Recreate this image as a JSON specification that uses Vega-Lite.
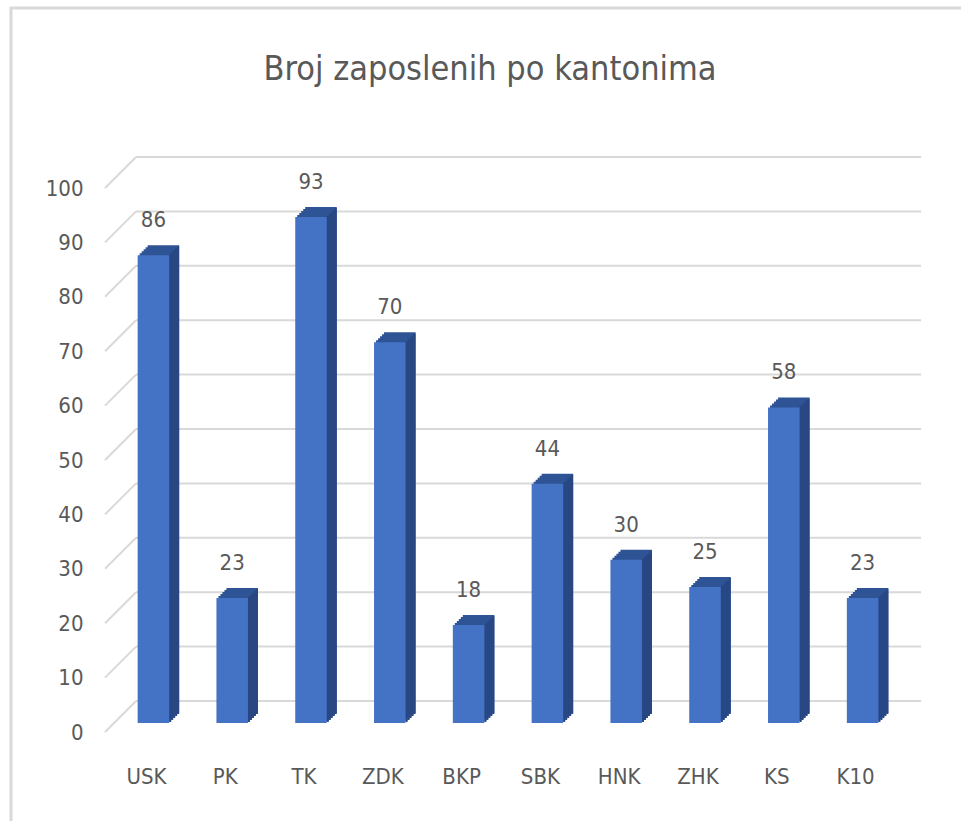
{
  "$schema": "https://vega.github.io/schema/vega-lite/v6.json",
  "width": 950,
  "height": 813,
  "autosize": {"type": "none"},
  "padding": {"left": 11, "top": 8, "right": 0, "bottom": 0},
  "background": "white",
  "title": {
    "text": "Broj zaposlenih po kantonima",
    "anchor": "middle",
    "frame": "group",
    "fontSize": 34,
    "fontWeight": "normal",
    "color": "#595959",
    "baseline": "alphabetic",
    "offset": -106,
    "dx": 4
  },
  "datasets": {
    "bars": [
      {"k": "USK", "v": 86},
      {"k": "PK", "v": 23},
      {"k": "TK", "v": 93},
      {"k": "ZDK", "v": 70},
      {"k": "BKP", "v": 18},
      {"k": "SBK", "v": 44},
      {"k": "HNK", "v": 30},
      {"k": "ZHK", "v": 25},
      {"k": "KS", "v": 58},
      {"k": "K10", "v": 23}
    ],
    "grid": [
      {"v": 0}, {"v": 10}, {"v": 20}, {"v": 30}, {"v": 40}, {"v": 50},
      {"v": 60}, {"v": 70}, {"v": 80}, {"v": 90}, {"v": 100}
    ]
  },
  "layer": [
    {
      "data": {"name": "grid"},
      "mark": {"type": "rule", "color": "#d9d9d9", "strokeWidth": 2, "xOffset": -1.6, "x2Offset": 42.7, "yOffset": -22, "y2Offset": -22},
      "encoding": {
        "x": {"datum": "USK", "bandPosition": 0, "type": "nominal"},
        "x2": {"datum": "K10", "bandPosition": 1},
        "y": {
          "field": "v", "type": "quantitative",
          "scale": {"domain": [0, 100], "range": [715, 171], "nice": false, "zero": true},
          "axis": {
            "title": null, "values": [0, 10, 20, 30, 40, 50, 60, 70, 80, 90, 100],
            "orient": "left", "offset": -72, "ticks": false, "tickSize": 0, "domain": false, "grid": false,
            "labelPadding": 0, "labelOffset": 9, "labelFontSize": 22, "labelColor": "#595959", "labelAlign": "right", "labelBaseline": "middle"
          }
        }
      }
    },
    {
      "data": {"name": "grid"},
      "mark": {"type": "rule", "color": "#d9d9d9", "strokeWidth": 2, "xOffset": -32.6, "x2Offset": -1.6, "yOffset": 9, "y2Offset": -22},
      "encoding": {
        "x": {"datum": "USK", "bandPosition": 0, "type": "nominal"},
        "x2": {"datum": "USK", "bandPosition": 0},
        "y": {"field": "v", "type": "quantitative"},
        "y2": {"field": "v"}
      }
    },
    {
      "data": {"name": "bars"},
      "mark": {"type": "bar", "color": "#2F5496", "xOffset": 2, "x2Offset": 2, "yOffset": -2, "y2Offset": -2},
      "encoding": {"x": {"field": "k", "type": "nominal"}, "y": {"field": "v", "type": "quantitative"}}
    },
    {
      "data": {"name": "bars"},
      "mark": {"type": "bar", "color": "#2F5496", "xOffset": 4, "x2Offset": 4, "yOffset": -4, "y2Offset": -4},
      "encoding": {"x": {"field": "k", "type": "nominal"}, "y": {"field": "v", "type": "quantitative"}}
    },
    {
      "data": {"name": "bars"},
      "mark": {"type": "bar", "color": "#2F5496", "xOffset": 6, "x2Offset": 6, "yOffset": -6, "y2Offset": -6},
      "encoding": {"x": {"field": "k", "type": "nominal"}, "y": {"field": "v", "type": "quantitative"}}
    },
    {
      "data": {"name": "bars"},
      "mark": {"type": "bar", "color": "#2F5496", "xOffset": 8, "x2Offset": 8, "yOffset": -8, "y2Offset": -8},
      "encoding": {"x": {"field": "k", "type": "nominal"}, "y": {"field": "v", "type": "quantitative"}}
    },
    {
      "data": {"name": "bars"},
      "mark": {"type": "bar", "color": "#2F5496", "xOffset": 10, "x2Offset": 10, "yOffset": -10, "y2Offset": -10},
      "encoding": {"x": {"field": "k", "type": "nominal"}, "y": {"field": "v", "type": "quantitative"}}
    },
    {
      "data": {"name": "bars"},
      "mark": {"type": "bar", "color": "#284782", "width": 2, "xOffset": 16.76, "yOffset": -1, "y2Offset": -1},
      "encoding": {"x": {"field": "k", "type": "nominal"}, "y": {"field": "v", "type": "quantitative"}}
    },
    {
      "data": {"name": "bars"},
      "mark": {"type": "bar", "color": "#284782", "width": 2, "xOffset": 18.76, "yOffset": -3, "y2Offset": -3},
      "encoding": {"x": {"field": "k", "type": "nominal"}, "y": {"field": "v", "type": "quantitative"}}
    },
    {
      "data": {"name": "bars"},
      "mark": {"type": "bar", "color": "#284782", "width": 2, "xOffset": 20.76, "yOffset": -5, "y2Offset": -5},
      "encoding": {"x": {"field": "k", "type": "nominal"}, "y": {"field": "v", "type": "quantitative"}}
    },
    {
      "data": {"name": "bars"},
      "mark": {"type": "bar", "color": "#284782", "width": 2, "xOffset": 22.76, "yOffset": -7, "y2Offset": -7},
      "encoding": {"x": {"field": "k", "type": "nominal"}, "y": {"field": "v", "type": "quantitative"}}
    },
    {
      "data": {"name": "bars"},
      "mark": {"type": "bar", "color": "#284782", "width": 2, "xOffset": 24.76, "yOffset": -9, "y2Offset": -9},
      "encoding": {"x": {"field": "k", "type": "nominal"}, "y": {"field": "v", "type": "quantitative"}}
    },
    {
      "data": {"name": "bars"},
      "mark": {"type": "bar", "color": "#4472C4"},
      "encoding": {
        "x": {
          "field": "k", "type": "nominal", "sort": null,
          "scale": {"domain": ["USK", "PK", "TK", "ZDK", "BKP", "SBK", "HNK", "ZHK", "KS", "K10"], "range": [103, 891], "paddingInner": 0.6, "paddingOuter": 0.3},
          "axis": {
            "title": null, "orient": "bottom", "offset": -45, "ticks": false, "tickSize": 0, "domain": false, "grid": false,
            "bandPosition": 0.5,
            "labelPadding": 0, "labelOffset": -7, "labelAngle": 0, "labelAlign": "center", "labelFontSize": 22, "labelColor": "#595959", "labelBaseline": "middle"
          }
        },
        "y": {"field": "v", "type": "quantitative"}
      }
    },
    {
      "data": {"name": "bars"},
      "mark": {"type": "text", "fontSize": 22, "color": "#595959", "baseline": "middle", "align": "center", "yOffset": -35},
      "encoding": {
        "x": {"field": "k", "type": "nominal"},
        "y": {"field": "v", "type": "quantitative"},
        "text": {"field": "v", "type": "quantitative"}
      }
    }
  ],
  "config": {
    "font": "DejaVu Sans Condensed, DejaVu Sans, sans-serif",
    "view": {"stroke": "#d9d9d9", "strokeWidth": 3, "strokeDash": [950, 1763, 813], "fill": "white"}
  }
}
